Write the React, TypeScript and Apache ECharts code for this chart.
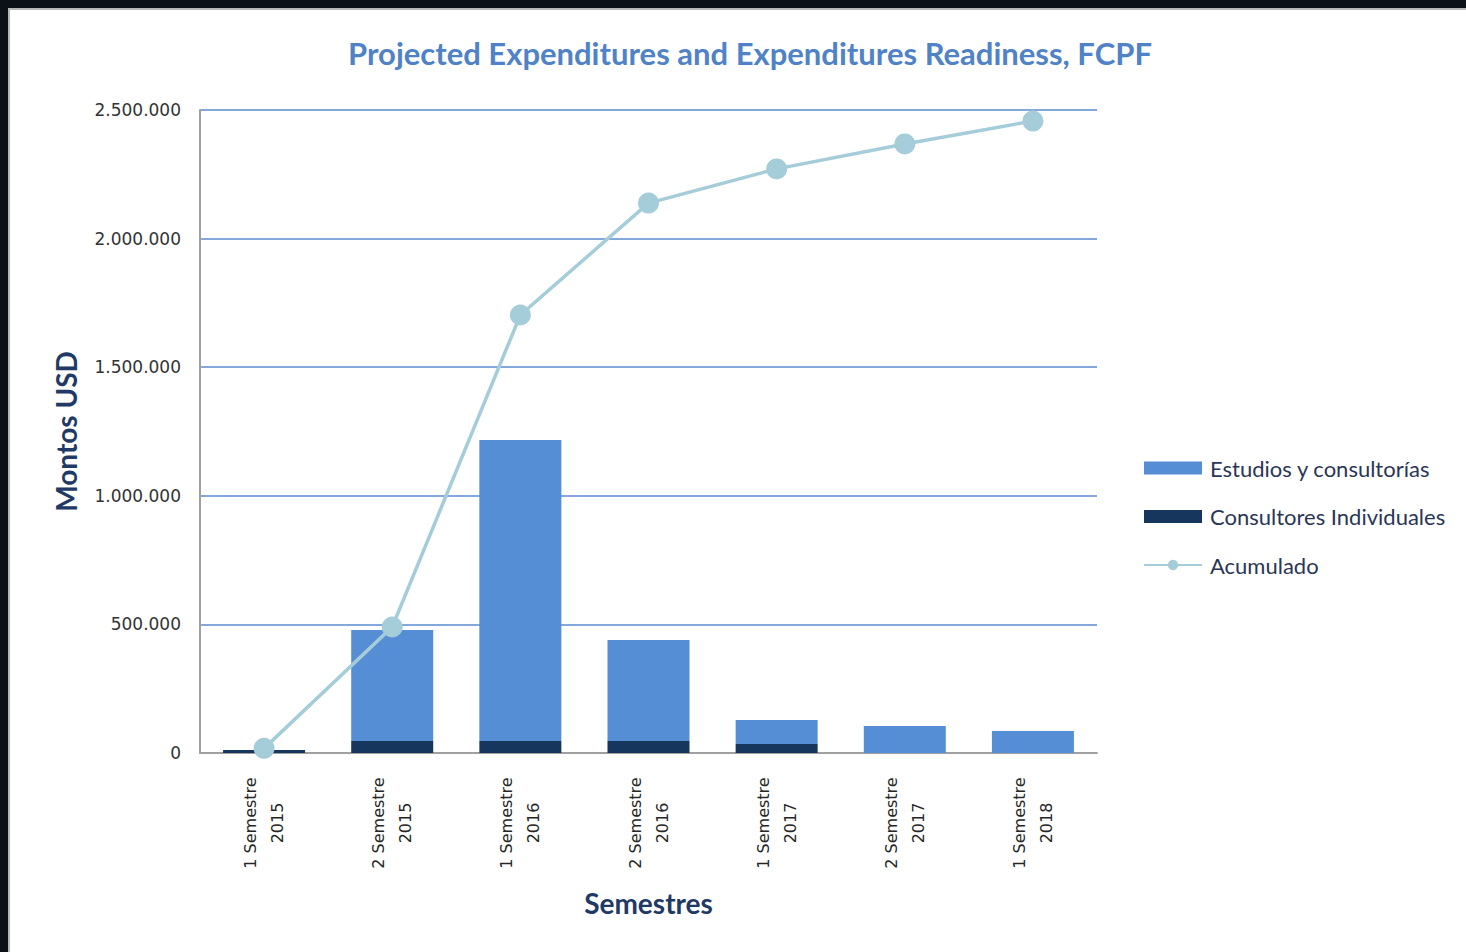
import React, { useEffect, useRef } from "react";
import * as echarts from "echarts";

const categories = [
  "1 Semestre\n2015",
  "2 Semestre\n2015",
  "1 Semestre\n2016",
  "2 Semestre\n2016",
  "1 Semestre\n2017",
  "2 Semestre\n2017",
  "1 Semestre\n2018",
];
const consultoresIndividuales = [12000, 47000, 47000, 47000, 35000, 0, 0];
const estudiosConsultorias = [0, 431000, 1170000, 392000, 93000, 105000, 86000];
const acumulado = [18000, 490000, 1703000, 2138000, 2271000, 2368000, 2457000];
const yTicks = [0, 500000, 1000000, 1500000, 2000000, 2500000];

const fmt = (v: number) => String(v).replace(/\B(?=(\d{3})+(?!\d))/g, ".");

export default function App() {
  const ref = useRef<HTMLDivElement>(null);
  useEffect(() => {
    document.body.style.margin = "0";
    const chart = echarts.init(ref.current!, null, { renderer: "svg" });
    chart.setOption({
      animation: false,
      backgroundColor: "#ffffff",
      title: {
        text: "Projected Expenditures and Expenditures Readiness, FCPF",
        left: 735,
        textAlign: "center",
        top: 22,
        textStyle: {
          fontFamily: "Lato",
          fontWeight: "bold",
          fontSize: 31,
          color: "#4f82c6",
        },
      },
      legend: {
        orient: "vertical",
        left: 1128,
        top: 442,
        itemWidth: 58,
        itemHeight: 13,
        itemGap: 26.5,
        data: [
          { name: "Estudios y consultorías", icon: "rect" },
          { name: "Consultores Individuales", icon: "rect" },
          { name: "Acumulado" },
        ],
        textStyle: { fontFamily: "Lato", fontSize: 22, color: "#2a3656", padding: [0, 0, 0, 3] },
      },
      grid: { left: 190, right: 369, top: 100, bottom: 199, containLabel: false },
      xAxis: {
        type: "category",
        data: categories,
        name: "Semestres",
        nameLocation: "middle",
        nameGap: 136,
        nameTextStyle: { fontFamily: "Lato", fontWeight: "bold", fontSize: 28, color: "#1f3a66" },
        axisLine: { lineStyle: { color: "#a0a0a0", width: 2 } },
        axisTick: { show: false },
        axisLabel: {
          rotate: 90,
          align: "center",
          verticalAlign: "middle",
          margin: 70,
          interval: 0,
          fontFamily: "DejaVu Sans",
          fontSize: 16,
          lineHeight: 27,
          color: "#262626",
        },
      },
      yAxis: {
        type: "value",
        min: 0,
        max: 2500000,
        interval: 500000,
        name: "Montos USD",
        nameLocation: "middle",
        nameGap: 120,
        nameRotate: 90,
        nameTextStyle: { fontFamily: "Lato", fontWeight: "bold", fontSize: 28, color: "#1f3a66" },
        axisLine: { show: true, lineStyle: { color: "#a0a0a0", width: 2 } },
        axisTick: { show: false },
        axisLabel: {
          margin: 19,
          fontFamily: "DejaVu Sans",
          fontSize: 17,
          color: "#333333",
          formatter: (v: number) => (yTicks.includes(v) ? fmt(v) : ""),
        },
        splitLine: { lineStyle: { color: "#5b8bd0", width: 1.5 } },
      },
      series: [
        {
          name: "Consultores Individuales",
          type: "bar",
          stack: "total",
          data: consultoresIndividuales,
          barWidth: "64%",
          itemStyle: { color: "#17365d" },
        },
        {
          name: "Estudios y consultorías",
          type: "bar",
          stack: "total",
          data: estudiosConsultorias,
          barWidth: "64%",
          itemStyle: { color: "#558ed5" },
        },
        {
          name: "Acumulado",
          type: "line",
          data: acumulado,
          symbol: "circle",
          symbolSize: 21,
          lineStyle: { color: "#a5cdd9", width: 3.5 },
          itemStyle: { color: "#a5cdd9" },
          z: 5,
        },
      ],
    });
    return () => chart.dispose();
  }, []);
  return (
    <div style={{ position: "relative", width: 1466, height: 952, background: "#0b1117", overflow: "hidden" }}>
      <div
        style={{
          position: "absolute",
          left: 8,
          top: 8,
          width: 1458,
          height: 944,
          borderLeft: "2px solid #b8b8b8",
          borderTop: "2px solid #b8b8b8",
          background: "#fff",
        }}
      >
        <div ref={ref} style={{ width: 1456, height: 942 }} />
      </div>
    </div>
  );
}
